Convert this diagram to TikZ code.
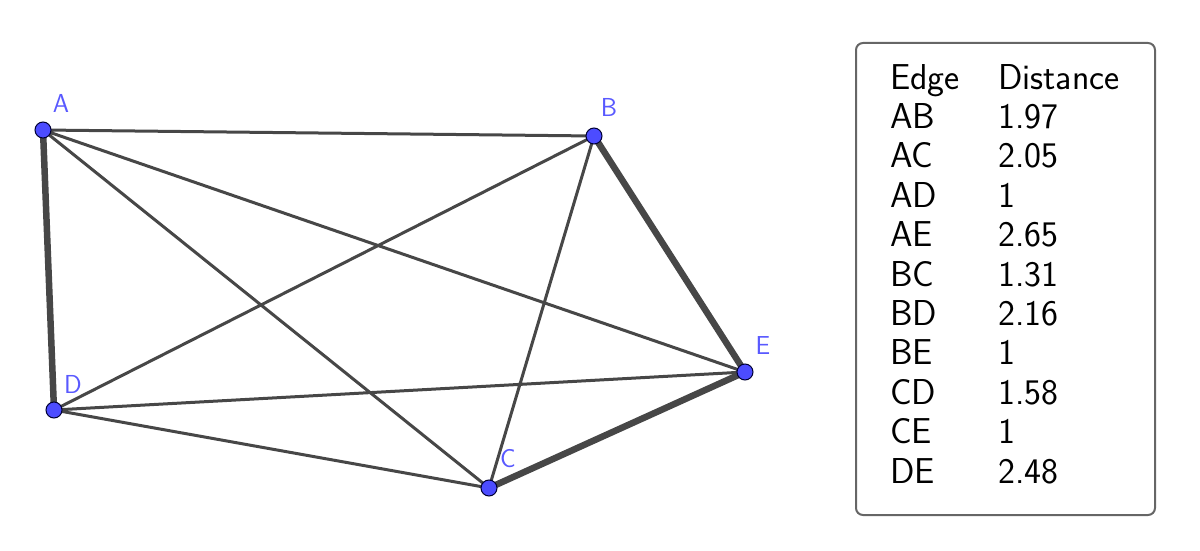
\documentclass[tikz,border=0pt]{standalone}
\begin{document}
\begin{tikzpicture}[x=1pt,y=-1pt,
  edge/.style={line width=3pt,draw=black!72},
  heavy/.style={line width=6.5pt,draw=black!72},
  pt/.style={circle,fill=blue!70!white,draw=black!80!blue,line width=1pt,inner sep=0pt,minimum size=16pt},
  lab/.style={text=blue!65!white,font=\sffamily\fontsize{26}{30}\selectfont,inner sep=0pt},
  cell/.style={anchor=base west,font=\sffamily\fontsize{36}{40}\selectfont,inner sep=0pt}]
\useasboundingbox (0,0) rectangle (1200,551);
\coordinate (A) at (43,130);
\coordinate (B) at (594,136);
\coordinate (C) at (489,488);
\coordinate (D) at (54,410);
\coordinate (E) at (745,372);
\draw[edge] (A)--(B) (A)--(C) (A)--(E) (B)--(C) (B)--(D) (D)--(E) (C)--(D);
\draw[heavy] (A)--(D) (B)--(E) (C)--(E);
\foreach \p in {A,B,C,D,E} \node[pt] (n\p) at (\p) {};
\node[lab] (lA) at (61,103) {A};
\node[lab] (lB) at (609,107) {B};
\node[lab] (lC) at (508,459) {C};
\node[lab] (lD) at (73,384) {D};
\node[lab] (lE) at (763,346) {E};
\draw[rounded corners=7pt,draw=black!60,line width=2pt] (856,43) rectangle (1155,515);
\node[cell] (h1) at (890,89) {Edge};
\node[cell] (h2) at (998,89) {Distance};
\foreach \e/\d [count=\i] in {AB/1.97,AC/2.05,AD/1,AE/2.65,BC/1.31,BD/2.16,BE/1,CD/1.58,CE/1,DE/2.48}{
  \node[cell] (e\i) at (890,{89+39.4*\i}) {\e};
  \node[cell] (d\i) at (998,{89+39.4*\i}) {\d};
}
\end{tikzpicture}
\end{document}
